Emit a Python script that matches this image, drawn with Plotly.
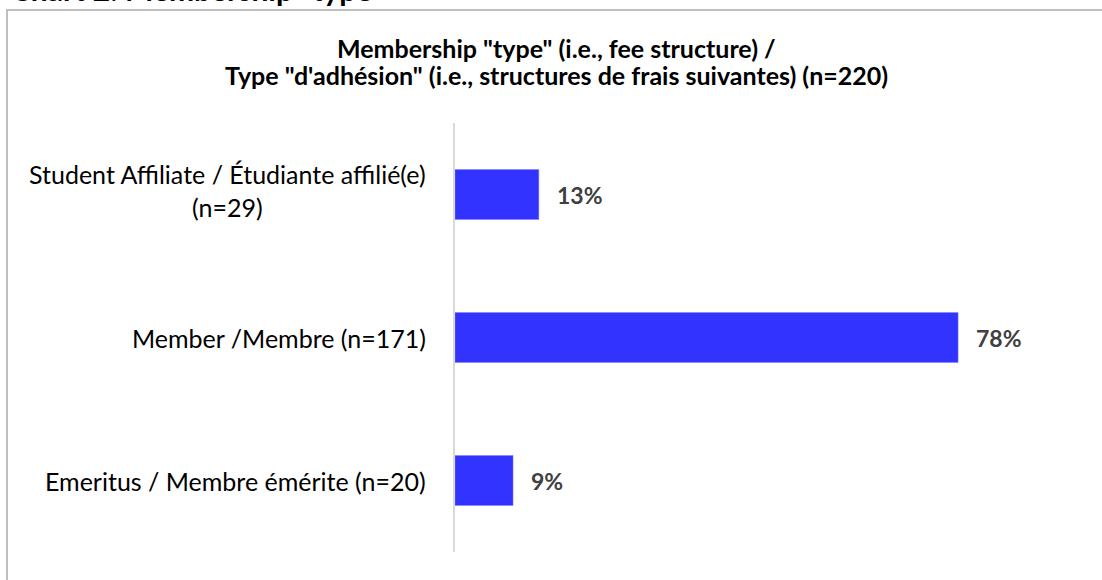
import plotly.graph_objects as go

categories = [
    "Student Affiliate / Étudiante affilié(e)<br>(n=29)",
    "Member /Membre (n=171)",
    "Emeritus / Membre émérite (n=20)",
]
values = [0.13, 0.78, 0.09]
value_labels = ["13%", "78%", "9%"]

title_lines = ['Membership "type" (i.e., fee structure) /',
               'Type "d\'adhésion" (i.e., structures de frais suivantes) (n=220)']
chart_heading = 'Chart 2: Membership "type"'

FONT = "Lato"
W, H = 1102, 580
L, R, T, B = 455, 22, 123, 28

fig = go.Figure()
fig.add_trace(go.Bar(
    x=values,
    y=categories,
    orientation="h",
    marker=dict(color="#3333FF", line=dict(color="#8080FF", width=0.5)),
    width=0.35,
    hoverinfo="skip",
))

pw = W - L - R
ph = H - T - B
def px_x(p):
    return (p - L) / pw
def px_y(p):
    return (H - B - p) / ph

annotations = []
for cat, v, lab in zip(categories, values, value_labels):
    annotations.append(dict(
        x=v, y=cat, xref="x", yref="y", text=f"<b>{lab}</b>",
        showarrow=False, xanchor="left", yanchor="middle", xshift=16,
        font=dict(family=FONT, size=23, color="#404040"),
    ))
    annotations.append(dict(
        x=0, y=cat, xref="x", yref="y", text=cat,
        showarrow=False, xanchor="right", yanchor="middle", align="center",
        xshift=-27, yshift=4 if "<br>" in cat else 0,
        font=dict(family=FONT, size=25, color="#000000"),
    ))

title_y = [48, 75]
for line, yy in zip(title_lines, title_y):
    annotations.append(dict(
        x=px_x(556), y=px_y(yy), xref="paper", yref="paper", text=f"<b>{line}</b>",
        showarrow=False, xanchor="center", yanchor="middle",
        font=dict(family=FONT, size=25, color="#000000"),
    ))

annotations.append(dict(
    x=px_x(9), y=px_y(9), xref="paper", yref="paper", text=f"<b>{chart_heading}</b>",
    showarrow=False, xanchor="left", yanchor="bottom",
    font=dict(family=FONT, size=30, color="#000000"),
))

shapes = [dict(
    type="path", xref="paper", yref="paper",
    path=f"M {px_x(7)} {px_y(600)} L {px_x(7)} {px_y(10)} L {px_x(1110)} {px_y(10)}",
    line=dict(color="#BFBFBF", width=2),
)]

fig.update_layout(
    width=W, height=H,
    margin=dict(l=L, r=R, t=T, b=B, autoexpand=False),
    paper_bgcolor="white", plot_bgcolor="white",
    showlegend=False,
    annotations=annotations,
    shapes=shapes,
    xaxis=dict(range=[0, pw / 645], showgrid=False, zeroline=False,
               showticklabels=False, showline=False, fixedrange=True),
    yaxis=dict(autorange="reversed", showgrid=False, zeroline=False,
               showticklabels=False, showline=True, linecolor="#D9D9D9",
               linewidth=2, fixedrange=True),
    font=dict(family=FONT),
)

fig.write_html("out.html", config={"displayModeBar": False},
               post_script="document.body.style.margin='0';")
